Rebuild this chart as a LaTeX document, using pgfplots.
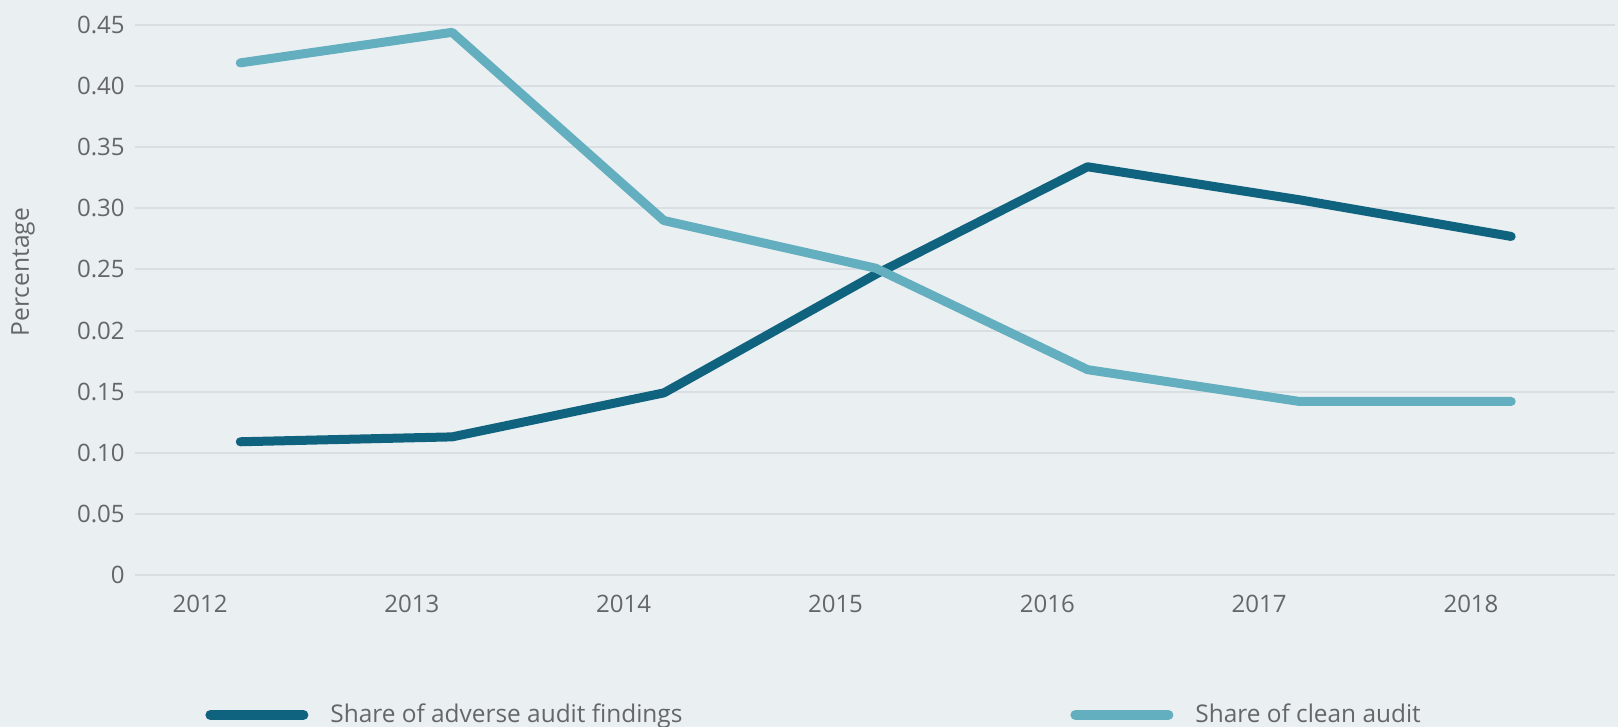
\documentclass[border=0pt]{standalone}
\usepackage{pgfplots}
\pgfplotsset{compat=1.18}
\usepackage{fontspec}
\setmainfont{Open Sans}
\definecolor{bgc}{HTML}{EAEFF2}
\definecolor{gridc}{HTML}{D9DEE2}
\definecolor{darkc}{HTML}{10637F}
\definecolor{lightc}{HTML}{63AEBF}
\definecolor{txtc}{HTML}{646668}
\begin{document}
\begin{tikzpicture}
\useasboundingbox (0,0) rectangle (809pt,363.5pt);
\fill[bgc] (0,0) rectangle (809pt,363.5pt);
\begin{axis}[
  at={(67.5pt,76pt)}, anchor=south west,
  scale only axis, width=740pt, height=275pt,
  xmin=2011.503, xmax=2018.49,
  ymin=0, ymax=0.45,
  clip=false,
  axis line style={draw=none},
  major tick length=0pt,
  tick style={draw=none},
  xtick={2011.81,2012.81,2013.81,2014.81,2015.81,2016.81,2017.81},
  xticklabels={2012,2013,2014,2015,2016,2017,2018},
  ytick={0,0.05,0.10,0.15,0.20,0.25,0.30,0.35,0.40,0.45},
  yticklabels={0,0.05,0.10,0.15,0.02,0.25,0.30,0.35,0.40,0.45},
  ymajorgrids,
  grid style={gridc, line width=1pt},
  /pgf/number format/assume math mode=true,
  tick label style={font=\fontsize{12}{14}\selectfont, text=txtc},
  yticklabel style={inner sep=0pt, xshift=-5pt},
  xticklabel style={inner sep=0pt, yshift=-10pt},
  ylabel={Percentage},
  every axis y label/.style={at={(axis description cs:-0.0757,0.551)}, rotate=90, anchor=center,
    font=\fontsize{12.3}{14}\selectfont, text=txtc},
  legend columns=2,
  legend style={at={(axis description cs:0,0)}, anchor=west, xshift=35pt, yshift=-70pt,
    draw=none, fill=none, inner sep=0pt, column sep=0pt,
    nodes={inner sep=0pt, anchor=west},
    font=\fontsize{12.2}{14}\selectfont, text=txtc},
  legend image code/.code={\draw[#1, line width=5pt, line cap=round] (0pt,0pt) -- (46.5pt,0pt);},
]
\addplot[darkc, line width=4.5pt, line join=round, line cap=round] coordinates {
 (2012,0.109) (2013,0.113) (2014,0.149) (2015,0.246) (2016,0.334) (2017,0.307) (2018,0.277)
};
\addlegendentry{\hspace{11pt}\makebox[370pt][l]{Share of adverse audit findings}}
\addplot[lightc, line width=4.5pt, line join=round, line cap=round] coordinates {
 (2012,0.419) (2013,0.444) (2014,0.290) (2015,0.251) (2016,0.168) (2017,0.142) (2018,0.142)
};
\addlegendentry{\hspace{11pt}Share of clean audit}
\end{axis}
\end{tikzpicture}
\end{document}
